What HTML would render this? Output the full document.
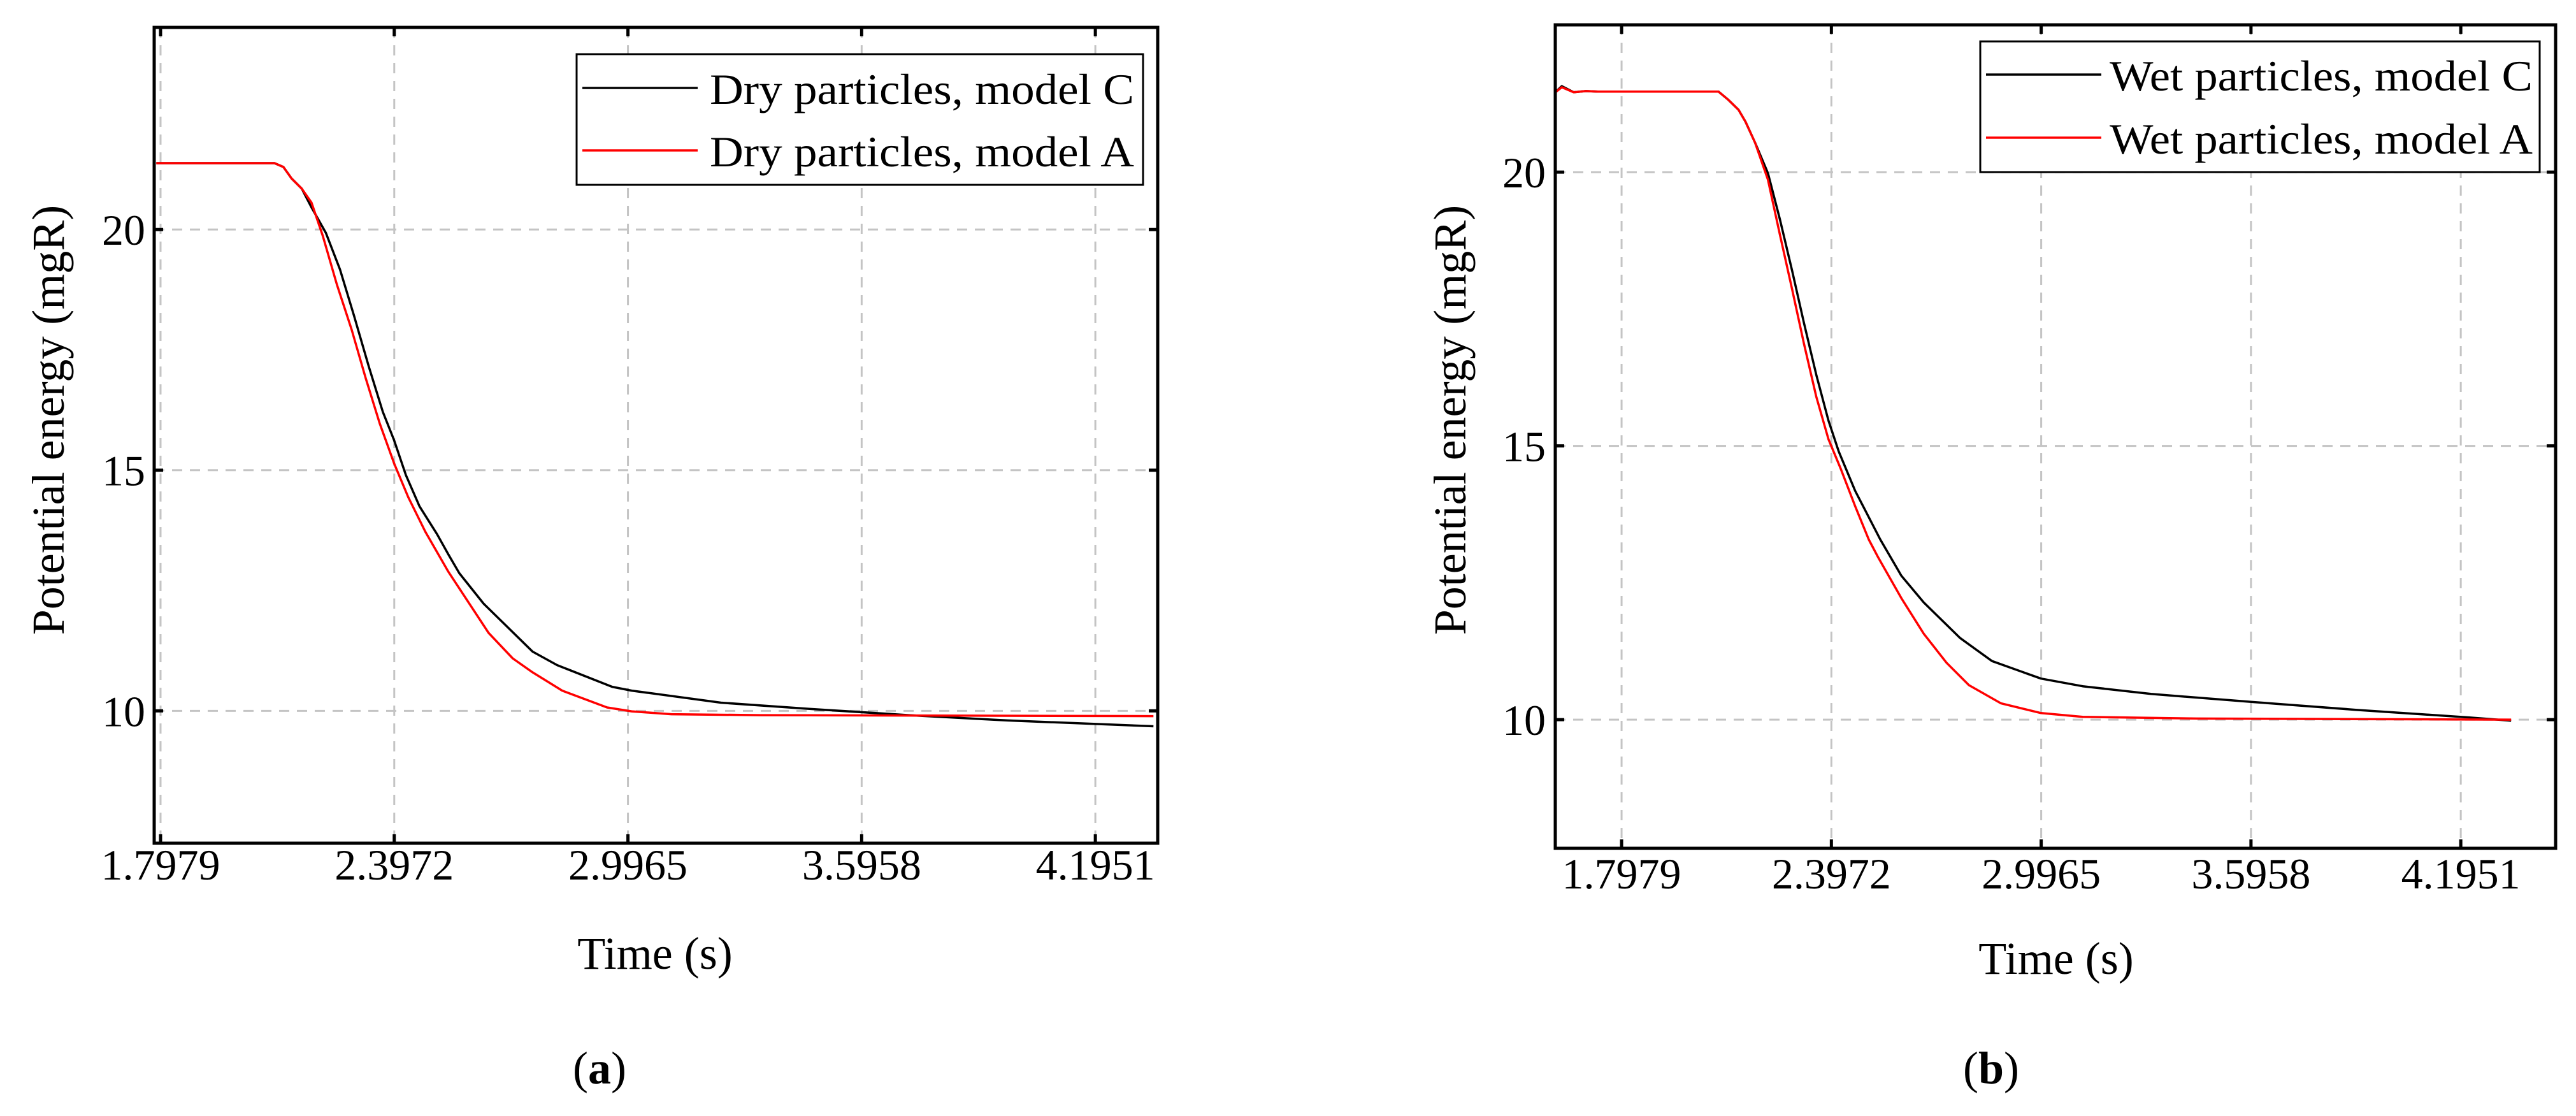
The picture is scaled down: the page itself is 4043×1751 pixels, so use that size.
<!DOCTYPE html>
<html><head><meta charset="utf-8">
<style>
html,body{margin:0;padding:0;background:#fff;}
svg{display:block;font-family:"Liberation Serif",serif;}
</style></head>
<body>
<svg id="fig" width="4043" height="1751" viewBox="0 0 4043 1751" xmlns="http://www.w3.org/2000/svg">
<rect width="4043" height="1751" fill="#fff"/>
</svg>
<script>
// ---- shared axis ticks ----
const xTickValues = [1.7979, 2.3972, 2.9965, 3.5958, 4.1951];
const xTickLabels = ["1.7979", "2.3972", "2.9965", "3.5958", "4.1951"];
const yTickValues = [10, 15, 20];
const yTickLabels = ["10", "15", "20"];
// ---- Panel (a) data ----
const dryCTime = [1.787,2.090,2.113,2.134,2.160,2.185,2.222,2.258,2.294,2.332,2.368,2.397,2.427,2.462,2.507,2.536,2.564,2.626,2.752,2.815,2.956,3.006,3.235,3.462,3.717,3.970,4.344];
const dryCValue = [21.38,21.38,21.30,21.06,20.85,20.46,19.93,19.17,18.21,17.15,16.21,15.62,14.90,14.25,13.67,13.25,12.86,12.23,11.23,10.95,10.50,10.42,10.17,10.04,9.91,9.80,9.68];
const dryATime = [1.787,2.090,2.113,2.134,2.160,2.185,2.214,2.250,2.288,2.324,2.360,2.397,2.433,2.477,2.536,2.639,2.701,2.752,2.828,2.943,3.006,3.108,3.336,4.344];
const dryAValue = [21.38,21.38,21.30,21.06,20.85,20.56,19.87,18.86,17.92,16.91,15.97,15.14,14.44,13.72,12.89,11.62,11.09,10.80,10.42,10.07,9.99,9.93,9.91,9.89];
// ---- Panel (b) data ----
const wetCTime = [1.609,1.627,1.661,1.696,1.730,2.075,2.103,2.132,2.152,2.179,2.216,2.250,2.285,2.319,2.354,2.389,2.418,2.465,2.537,2.597,2.661,2.765,2.856,2.996,3.115,3.310,3.605,3.895,4.220,4.339];
const wetCValue = [21.46,21.57,21.46,21.48,21.47,21.47,21.32,21.14,20.92,20.54,19.98,19.14,18.20,17.24,16.30,15.46,14.90,14.18,13.29,12.63,12.14,11.49,11.07,10.75,10.61,10.47,10.32,10.18,10.04,9.98];
const wetATime = [1.609,1.627,1.661,1.696,1.730,2.075,2.103,2.132,2.152,2.179,2.216,2.250,2.285,2.319,2.354,2.389,2.424,2.465,2.504,2.531,2.597,2.661,2.726,2.790,2.881,2.996,3.115,3.440,4.339];
const wetAValue = [21.46,21.55,21.46,21.48,21.47,21.47,21.32,21.14,20.92,20.54,19.86,18.86,17.86,16.86,15.90,15.12,14.58,13.90,13.29,12.96,12.22,11.57,11.04,10.63,10.30,10.12,10.05,10.02,10.00];

const NS = "http://www.w3.org/2000/svg";
const svg = document.getElementById("fig");
function mk(tag, attrs, parent, text) {
  const e = document.createElementNS(NS, tag);
  for (const k in attrs) e.setAttribute(k, attrs[k]);
  if (text !== undefined) e.textContent = text;
  (parent || svg).appendChild(e);
  return e;
}

function panel(cfg) {
  const g = mk("g", {});
  
  
  const L = cfg.box[0], T = cfg.box[1], R = cfg.box[2], B = cfg.box[3];
  const sx = v => L + (v - cfg.xd[0]) / (cfg.xd[1] - cfg.xd[0]) * (R - L);
  const sy = v => B - (v - cfg.yd[0]) / (cfg.yd[1] - cfg.yd[0]) * (B - T);
  xTickValues.forEach((v, i) => {
    const x = sx(v);
    const gl = mk("line", {x1: x, x2: x, y1: T, y2: B, stroke: "#c4c4c4", "stroke-width": 3, "stroke-dasharray": "16 12"}, g);
    
    
    mk("line", {x1: x, x2: x, y1: B, y2: B - 14, stroke: "#000", "stroke-width": 5}, g);
    mk("line", {x1: x, x2: x, y1: T, y2: T + 14, stroke: "#000", "stroke-width": 5}, g);
    const t = mk("text", {x: x, y: cfg.xLabY, "text-anchor": "middle", "font-size": 68}, g, xTickLabels[i]);
    
    
  });
  yTickValues.forEach((v, i) => {
    const y = sy(v);
    const gl = mk("line", {x1: L, x2: R, y1: y, y2: y, stroke: "#c4c4c4", "stroke-width": 3, "stroke-dasharray": "16 12"}, g);
    
    
    mk("line", {x1: L, x2: L + 14, y1: y, y2: y, stroke: "#000", "stroke-width": 5}, g);
    mk("line", {x1: R, x2: R - 14, y1: y, y2: y, stroke: "#000", "stroke-width": 5}, g);
    const t = mk("text", {x: cfg.yLabX, y: y + 24, "text-anchor": "end", "font-size": 68}, g, yTickLabels[i]);
    
    
  });
  cfg.series.forEach(s => {
    const d = s.t.map((tv, i) => (i ? "L" : "M") + sx(tv).toFixed(1) + "," + sy(s.v[i]).toFixed(1)).join(" ");
    const p = mk("path", {d: d, fill: "none", stroke: s.color, "stroke-width": 3.5, "stroke-linejoin": "round"}, g);
    
    
  });
  const fr = mk("rect", {x: L, y: T, width: R - L, height: B - T, fill: "none", stroke: "#000", "stroke-width": 5}, g);
  
  
  const lg = mk("g", {}, g);
  
  
  const lb = cfg.legend;
  mk("rect", {x: lb.x, y: lb.y, width: lb.w, height: lb.h, fill: "#fff", stroke: "#000", "stroke-width": 3}, lg);
  cfg.series.forEach((s, i) => {
    const ry = lb.rows[i];
    const ent = mk("g", {}, lg);
    
    
    mk("line", {x1: lb.x + 9, x2: lb.x + 190, y1: ry, y2: ry, stroke: s.color, "stroke-width": 3.5}, ent);
    mk("text", {x: lb.textX, y: ry + 25, "font-size": 68, textLength: lb.textW, lengthAdjust: "spacingAndGlyphs"}, ent, s.label);
  });
  const xt = mk("text", {x: cfg.xTitle[0], y: cfg.xTitle[1], "text-anchor": "middle", "font-size": 72}, g, "Time (s)");
  
  
  const yt = mk("text", {x: 0, y: 0, "text-anchor": "middle", "font-size": 72, transform: "translate(" + cfg.yTitle[0] + "," + cfg.yTitle[1] + ") rotate(-90)"}, g, "Potential energy (mgR)");
  
  
  const cap = mk("text", {x: cfg.cap[0], y: cfg.cap[1], "text-anchor": "middle", "font-size": 72}, g);
  
  
  mk("tspan", {}, cap, "(");
  mk("tspan", {"font-weight": "bold"}, cap, cfg.letter);
  mk("tspan", {}, cap, ")");
}

panel({
  name: "panel-a", box: [242, 43, 1817, 1323], xd: [1.7816, 4.355], yd: [7.25, 24.2],
  xLabY: 1380, yLabX: 228, xTitle: [1028, 1520], yTitle: [100, 659], cap: [941, 1700], letter: "a",
  legend: {x: 905, y: 85, w: 889, h: 205, rows: [138, 236], textX: 1114, textW: 666},
  series: [
    {name: "dry-model-c-line", color: "#000", t: dryCTime, v: dryCValue, label: "Dry particles, model C"},
    {name: "dry-model-a-line", color: "#ff0000", t: dryATime, v: dryAValue, label: "Dry particles, model A"}
  ]
});
panel({
  name: "panel-b", box: [2441, 39, 4011, 1331], xd: [1.6085, 4.466], yd: [7.65, 22.69],
  xLabY: 1394, yLabX: 2426, xTitle: [3227, 1528], yTitle: [2300, 659], cap: [3125, 1700], letter: "b",
  legend: {x: 3108, y: 65, w: 878, h: 205, rows: [117, 216], textX: 3311, textW: 664},
  series: [
    {name: "wet-model-c-line", color: "#000", t: wetCTime, v: wetCValue, label: "Wet particles, model C"},
    {name: "wet-model-a-line", color: "#ff0000", t: wetATime, v: wetAValue, label: "Wet particles, model A"}
  ]
});
</script>
</body></html>
